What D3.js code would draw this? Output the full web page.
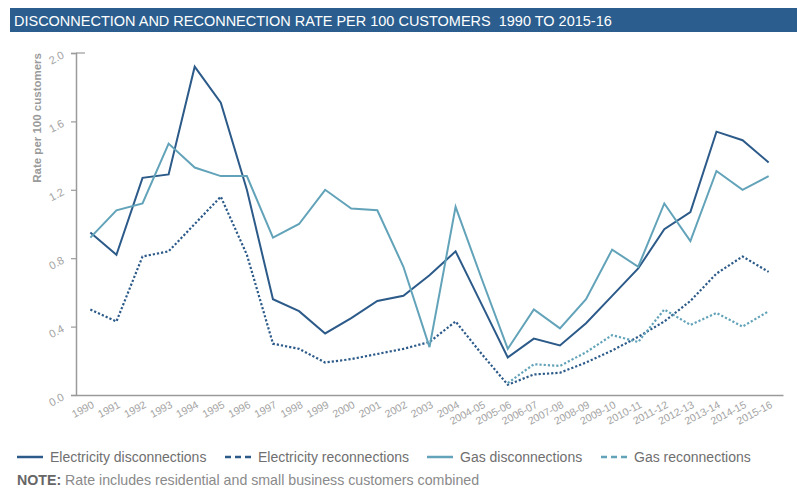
<!DOCTYPE html>
<html>
<head>
<meta charset="utf-8">
<script src="https://cdn.jsdelivr.net/npm/d3@7"></script>
<style>
  html, body { margin: 0; padding: 0; background: #fff; }
  svg { display: block; font-family: "Liberation Sans", Arial, sans-serif; }
</style>
</head>
<body>
<svg id="chart" width="797" height="487"></svg>
<script>
// Financial years on the x axis
const categories = [
  "1990","1991","1992","1993","1994","1995","1996","1997","1998","1999",
  "2000","2001","2002","2003","2004","2004-05","2005-06","2006-07","2007-08",
  "2008-09","2009-10","2010-11","2011-12","2012-13","2013-14","2014-15","2015-16"
];

// Rates per 100 customers
const electricityDisconnections = [0.95,0.82,1.27,1.29,1.92,1.71,1.20,0.56,0.49,0.36,0.45,0.55,0.58,0.70,0.84,0.53,0.22,0.33,0.29,0.42,0.58,0.74,0.97,1.07,1.54,1.49,1.36];
const electricityReconnections  = [0.50,0.43,0.81,0.84,1.00,1.16,0.82,0.30,0.27,0.19,0.21,0.24,0.27,0.31,0.43,0.24,0.06,0.12,0.13,0.19,0.26,0.34,0.43,0.55,0.71,0.81,0.72];
const gasDisconnections         = [0.92,1.08,1.12,1.47,1.33,1.28,1.28,0.92,1.00,1.20,1.09,1.08,0.75,0.28,1.10,0.68,0.27,0.50,0.39,0.56,0.85,0.75,1.12,0.90,1.31,1.20,1.28];
const gasReconnections          = [null,null,null,null,null,null,null,null,null,null,null,null,null,null,null,null,0.07,0.18,0.17,0.25,0.35,0.31,0.50,0.41,0.48,0.40,0.49];

const yTicks = [0, 0.4, 0.8, 1.2, 1.6, 2.0];

const titleText = "DISCONNECTION AND RECONNECTION RATE PER 100 CUSTOMERS  1990 TO 2015-16";
const yAxisTitle = "Rate per 100 customers";
const noteLabel = "NOTE:";
const noteText = " Rate includes residential and small business customers combined";

const ELEC = "#2c5a89";
const GAS = "#62a3b9";
const AXIS = "#9a9a9a";

const series = [
  { name: "Electricity disconnections", values: electricityDisconnections, color: ELEC, dashed: false },
  { name: "Electricity reconnections",  values: electricityReconnections,  color: ELEC, dashed: true },
  { name: "Gas disconnections",         values: gasDisconnections,         color: GAS,  dashed: false },
  { name: "Gas reconnections",          values: gasReconnections,          color: GAS,  dashed: true }
];

const svg = d3.select("#chart");

// Title banner
svg.append("rect")
  .attr("x", 10).attr("y", 8).attr("width", 787).attr("height", 24)
  .attr("fill", "#2b5e8e");
const title = svg.append("text")
  .attr("x", 14).attr("y", 25.5)
  .attr("fill", "#fff")
  .style("font-size", "15px")
  .style("white-space", "pre")
  .text(titleText);
const tw = title.node().getComputedTextLength();
title.style("font-size", (15 * 598 / tw).toFixed(2) + "px");

// Plot area
const plotLeft = 76, plotRight = 783, plotTop = 53, plotBottom = 395;

const x = d3.scalePoint().domain(categories).range([plotLeft, plotRight]).padding(0.55);
const y = d3.scaleLinear().domain([0, 2]).range([plotBottom, plotTop]);

// Axes
const yAxis = d3.axisLeft(y).tickValues(yTicks).tickSize(5).tickFormat(d3.format(".1f"));
const gy = svg.append("g").attr("transform", `translate(${plotLeft},0)`).call(yAxis);
gy.select(".domain").attr("stroke", AXIS).attr("stroke-width", 1.5);
gy.selectAll(".tick line").attr("stroke", AXIS).attr("stroke-width", 1.2);
gy.selectAll(".tick text")
  .attr("fill", "#a3a3a3")
  .style("font-size", "11px")
  .attr("x", null).attr("dy", null)
  .attr("text-anchor", "end")
  .attr("transform", "translate(-11,4) rotate(-28)");
// small cap at the top of the value axis
svg.append("line")
  .attr("x1", plotLeft).attr("x2", plotLeft + 9).attr("y1", plotTop).attr("y2", plotTop)
  .attr("stroke", AXIS).attr("stroke-width", 1.2);

const xAxis = d3.axisBottom(x).tickSize(0);
const gx = svg.append("g").attr("transform", `translate(0,${plotBottom})`).call(xAxis);
gx.select(".domain").attr("stroke", AXIS).attr("stroke-width", 1.5);
gx.selectAll(".tick text")
  .attr("fill", "#a3a3a3")
  .style("font-size", "10.5px")
  .attr("y", null).attr("dy", null)
  .attr("text-anchor", "end")
  .attr("transform", "translate(4,12) rotate(-28)");

// Value axis title
svg.append("text")
  .attr("transform", `translate(41,${plotTop}) rotate(-90)`)
  .attr("text-anchor", "end")
  .attr("fill", "#9a9a9a")
  .style("font-size", "11.5px")
  .style("font-weight", "bold")
  .text(yAxisTitle);

// Series lines
const line = d3.line()
  .defined(d => d.v != null)
  .x(d => x(d.c))
  .y(d => y(d.v));

series.forEach(s => {
  svg.append("path")
    .datum(categories.map((c, i) => ({ c, v: s.values[i] })))
    .attr("fill", "none")
    .attr("stroke", s.color)
    .attr("stroke-width", s.dashed ? 2.2 : 2)
    .attr("stroke-dasharray", s.dashed ? "2.2,2" : null)
    .attr("stroke-linejoin", "miter")
    .attr("d", line);
});

// Legend
const legendX = [17, 225, 427, 601];
const lg = svg.append("g");
series.forEach((s, i) => {
  const g = lg.append("g").attr("transform", `translate(${legendX[i]},457)`);
  g.append("line")
    .attr("x1", 0).attr("x2", 26).attr("y1", 0).attr("y2", 0)
    .attr("stroke", s.color).attr("stroke-width", 2.5)
    .attr("stroke-dasharray", s.dashed ? "6,4" : null);
  g.append("text")
    .attr("x", 33).attr("y", 5)
    .attr("fill", "#6f6f6f")
    .style("font-size", "14px")
    .text(s.name);
});

// Footnote
const note = svg.append("text")
  .attr("x", 17).attr("y", 485)
  .style("font-size", "14.2px")
  .style("white-space", "pre");
note.append("tspan").attr("fill", "#666").style("font-weight", "bold").text(noteLabel);
note.append("tspan").attr("fill", "#8a8a8a").text(noteText);
</script>
</body>
</html>
